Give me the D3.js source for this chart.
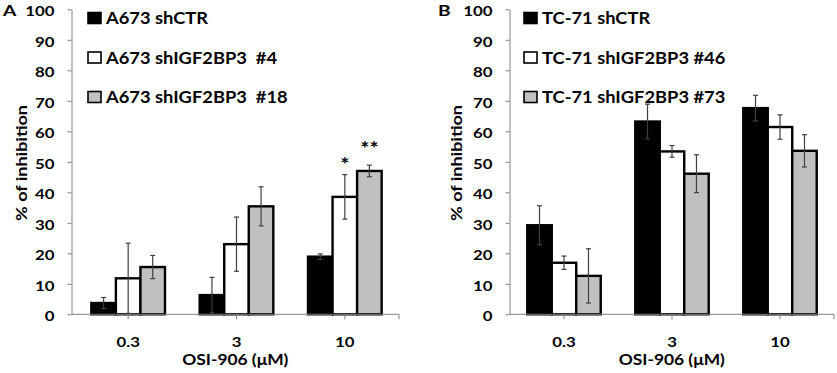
<!DOCTYPE html>
<html>
<head>
<meta charset="utf-8">
<script src="https://cdn.jsdelivr.net/npm/d3@7"></script>
<style>
  body { margin: 0; background: #fff; }
  text { font-family: Lato, 'Open Sans', sans-serif; font-weight: bold; fill: #000; }
</style>
</head>
<body>
<div id="chart"></div>
<script>
// doses on the category axis
const doses = ['0.3', '3', '10']
const yTicks = [0, 10, 20, 30, 40, 50, 60, 70, 80, 90, 100]

// panel A (A673)
const seriesA = ['A673 shCTR', 'A673 shIGF2BP3  #4', 'A673 shIGF2BP3  #18']
const meansA = [
  [3.7, 6.3, 18.9],
  [11.8, 23.0, 38.5],
  [15.5, 35.4, 47.0]
]
const errA = [
  [1.8, 5.8, 0.9],
  [11.5, 8.9, 7.3],
  [3.8, 6.4, 1.9]
]
// significance marks: [series index, dose index, text, level it sits at]
const starsA = [[1, 2, '*', 50.4], [2, 2, '**', 55.4]]

// panel B (TC-71)
const seriesB = ['TC-71 shCTR', 'TC-71 shIGF2BP3 #46', 'TC-71 shIGF2BP3 #73']
const meansB = [
  [29.2, 63.2, 67.6],
  [16.9, 53.4, 61.4],
  [12.6, 46.1, 53.6]
]
const errB = [
  [6.4, 5.7, 4.2],
  [2.2, 1.9, 4.0],
  [8.9, 6.2, 5.3]
]

const fills = ['#000000', '#ffffff', '#c0c0c0']
const W = 837, H = 373
const SX = 1.2 // the figure's type is stretched sideways

const svg = d3.select('#chart').append('svg')
  .attr('width', W).attr('height', H)
  .attr('viewBox', [0, 0, W, H])

const y = d3.scaleLinear().domain([0, 100]).range([314.3, 9.3])

function txt(g, x, yy, s, size, anchor = 'start', rot = 0, sx = SX) {
  return g.append('text')
    .attr('transform', `translate(${x},${yy}) rotate(${rot}) scale(${sx},1)`)
    .attr('font-size', size)
    .attr('text-anchor', anchor)
    .style('white-space', 'pre')
    .text(s)
}

function panel(opts) {
  const g = svg.append('g')
  const x = d3.scaleBand().domain(doses)
    .range([opts.x0, opts.x1]).paddingInner(0.32).paddingOuter(0.16)
  const xs = d3.scaleBand().domain(d3.range(opts.series.length))
    .range([0, x.bandwidth()])

  // y axis
  const ya = g.append('g')
    .attr('transform', `translate(${opts.axisX},0)`)
    .call(d3.axisLeft(y).tickValues(yTicks).tickSize(4).tickSizeOuter(0))
  ya.select('.domain').attr('stroke', '#808080')
  ya.selectAll('.tick line').attr('stroke', '#808080')
  ya.selectAll('.tick text')
    .attr('font-size', 14)
    .attr('x', null)
    .attr('dy', '0.46em')
    .attr('transform', `translate(${-17},0) scale(${SX},1)`)

  // bars
  opts.series.forEach((s, si) => {
    g.append('g').selectAll('rect')
      .data(doses)
      .join('rect')
      .attr('x', (d) => x(d) + xs(si))
      .attr('y', (d, di) => y(opts.means[si][di]))
      .attr('width', xs.bandwidth())
      .attr('height', (d, di) => y(0) - y(opts.means[si][di]))
      .attr('fill', fills[si])
      .attr('stroke', '#000')
      .attr('stroke-width', 2.4)
  })

  // error bars
  opts.series.forEach((s, si) => {
    const eg = g.append('g').attr('stroke', '#404040').attr('stroke-width', 1.2)
    doses.forEach((d, di) => {
      const cx = x(d) + xs(si) + xs.bandwidth() / 2
      const m = opts.means[si][di], e = opts.err[si][di]
      eg.append('line').attr('x1', cx).attr('x2', cx).attr('y1', y(m - e)).attr('y2', y(m + e))
      eg.append('line').attr('x1', cx - 2.5).attr('x2', cx + 2.5).attr('y1', y(m + e)).attr('y2', y(m + e))
      eg.append('line').attr('x1', cx - 2.5).attr('x2', cx + 2.5).attr('y1', y(m - e)).attr('y2', y(m - e))
    })
  })

  // x axis
  const xa = g.append('g').attr('transform', `translate(0,${y(0)})`)
  xa.append('line').attr('x1', opts.axisX).attr('x2', opts.x1)
    .attr('stroke', '#808080')
  xa.selectAll('.xt').data(doses.map((d) => x(d) + x.bandwidth() / 2).concat([opts.x1]))
    .join('line')
    .attr('x1', (d) => d).attr('x2', (d) => d).attr('y1', 0).attr('y2', 5)
    .attr('stroke', '#808080')
  doses.forEach((d) => txt(xa, x(d) + x.bandwidth() / 2, 33, d, 14, 'middle'))

  txt(g, (opts.axisX + opts.x1) / 2, 365, 'OSI-906 (μM)', 14.5, 'middle')
  txt(g, opts.titleX, 163, '% of inhibition', 15, 'middle', -90)

  // panel letter
  txt(g, opts.letterX, 15.5, opts.letter, 16)

  // legend
  opts.series.forEach((s, si) => {
    const ly = 18 + si * 39.5
    g.append('rect')
      .attr('x', opts.legX).attr('y', ly - 5.5)
      .attr('width', 13).attr('height', 11)
      .attr('fill', fills[si]).attr('stroke', '#000').attr('stroke-width', 1.6)
    txt(g, opts.legX + 18, ly + 6.3, s, 16.5, 'start', 0, 1.11)
  })

  // significance stars
  ;(opts.stars || []).forEach(([si, di, t, lv]) => {
    const cx = x(doses[di]) + xs(si) + xs.bandwidth() / 2
    txt(g, cx, y(lv) + 10, t, 18, 'middle')
  })
}

panel({
  letter: 'A', letterX: 3, axisX: 71.5, x0: 74, x1: 399,
  titleX: 26.5, legX: 88, series: seriesA, means: meansA, err: errA, stars: starsA
})

panel({
  letter: 'B', letterX: 438, axisX: 509.5, x0: 510, x1: 834,
  titleX: 461.5, legX: 524, series: seriesB, means: meansB, err: errB
})
</script>
</body>
</html>
